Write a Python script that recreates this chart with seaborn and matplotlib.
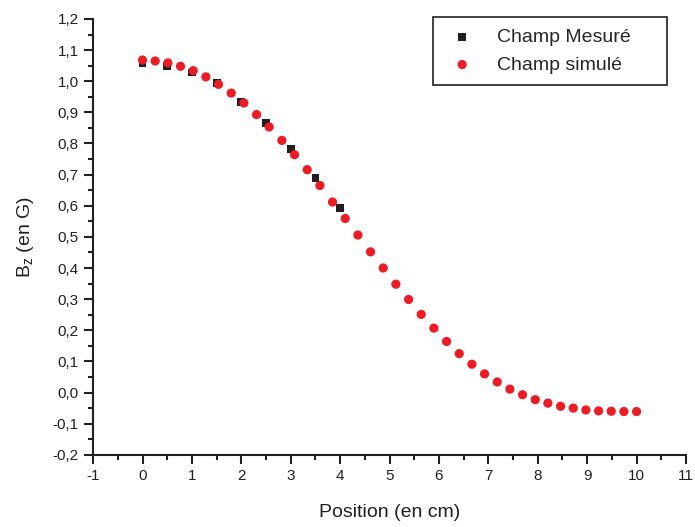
import pandas as pd
import seaborn as sns
import numpy as np
import matplotlib.pyplot as plt
import matplotlib.ticker as ticker

# mesures (tous les 0,5 cm)
pos_mesure = [0, 0.5, 1, 1.5, 2, 2.5, 3, 3.5, 4]
bz_mesure = [1.057, 1.049, 1.028, 0.995, 0.932, 0.867, 0.781, 0.690, 0.594]

# simulation (40 points de 0 a 10 cm)
pos_simu = [0.0, 0.256, 0.513, 0.769, 1.026, 1.282, 1.538, 1.795, 2.051, 2.308,
            2.564, 2.821, 3.077, 3.333, 3.590, 3.846, 4.103, 4.359, 4.615, 4.872,
            5.128, 5.385, 5.641, 5.897, 6.154, 6.410, 6.667, 6.923, 7.179, 7.436,
            7.692, 7.949, 8.205, 8.462, 8.718, 8.974, 9.231, 9.487, 9.744, 10.0]
bz_simu = [1.068, 1.065, 1.059, 1.048, 1.034, 1.014, 0.990, 0.962, 0.930, 0.893,
           0.853, 0.810, 0.764, 0.716, 0.665, 0.612, 0.559, 0.506, 0.452, 0.400,
           0.348, 0.299, 0.251, 0.207, 0.164, 0.125, 0.091, 0.060, 0.034, 0.011,
           -0.007, -0.023, -0.034, -0.044, -0.050, -0.056, -0.059, -0.060, -0.061, -0.061]

df_mes = pd.DataFrame({'pos': pos_mesure, 'bz': bz_mesure})
df_sim = pd.DataFrame({'pos': pos_simu, 'bz': bz_simu})

sns.set_style('ticks')
plt.rcParams['font.family'] = ['Liberation Sans', 'DejaVu Sans']
plt.rcParams['mathtext.fontset'] = 'custom'
plt.rcParams['mathtext.rm'] = 'Liberation Sans'

fig = plt.figure(figsize=(6.95, 5.27), dpi=100)
ax = fig.add_axes([0.134, 0.137, 0.853, 0.827])

sns.scatterplot(data=df_mes, x='pos', y='bz', marker='s', s=32, color='#231f20',
                edgecolor='none', label='Champ Mesuré', ax=ax, zorder=2)
sns.scatterplot(data=df_sim, x='pos', y='bz', marker='o', s=44, color='#ed1c24',
                edgecolor='none', label='Champ simulé', ax=ax, zorder=3)

ax.set_xlim(-1, 11)
ax.set_ylim(-0.2, 1.2)
ax.xaxis.set_major_locator(ticker.MultipleLocator(1))
ax.xaxis.set_minor_locator(ticker.MultipleLocator(0.5))
ax.yaxis.set_major_locator(ticker.MultipleLocator(0.1))
ax.yaxis.set_minor_locator(ticker.MultipleLocator(0.05))
ax.yaxis.set_major_formatter(ticker.FuncFormatter(lambda v, p: f'{v:.1f}'.replace('.', ',').replace('-0,0', '0,0')))
ax.xaxis.set_major_formatter(ticker.FuncFormatter(lambda v, p: f'{v:.0f}'))

sns.despine(ax=ax)
for sp in ['left', 'bottom']:
    ax.spines[sp].set_linewidth(1.5)
    ax.spines[sp].set_color('#231f20')
ax.tick_params(which='major', direction='out', length=6.5, width=1.5, labelsize=11,
               colors='#231f20', pad=4)
ax.tick_params(which='minor', direction='out', length=3.5, width=1.5, colors='#231f20')

ax.set_xlabel('Position (en cm)', fontsize=14, color='#231f20', labelpad=15)
ax.set_ylabel(r'B$_\mathregular{z}$ (en G)', fontsize=14, color='#231f20', labelpad=12)

# legende etiree sur la largeur de la boite
leg = ax.legend(loc='upper left', bbox_to_anchor=(0.623, 0.8444, 0.3367, 0.1233),
                bbox_transform=fig.transFigure, mode='expand', borderaxespad=0,
                fontsize=14, frameon=True, fancybox=False, shadow=False,
                handlelength=1.8, handletextpad=0.89, borderpad=0.6, labelspacing=0.5)
leg.get_frame().set_edgecolor('#231f20')
leg.get_frame().set_linewidth(1.2)
leg.get_frame().set_alpha(1)

plt.savefig('out.png', dpi=100)
